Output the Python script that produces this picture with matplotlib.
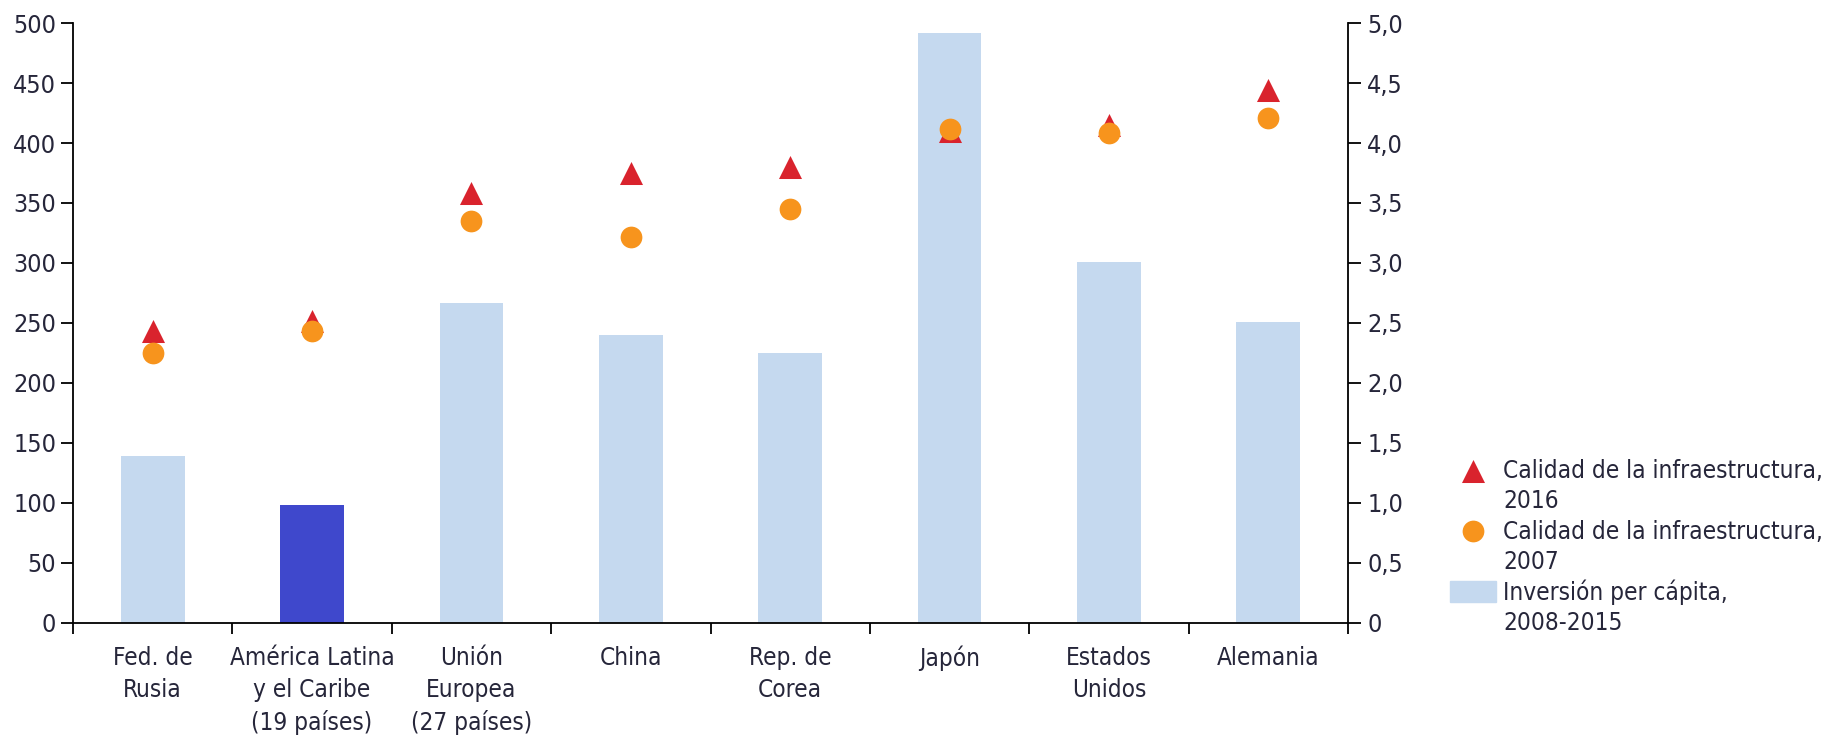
import numpy as np
import matplotlib.pyplot as plt
from matplotlib.patches import Patch

plt.rcParams['font.family'] = ['DejaVu Sans']
plt.rcParams['font.stretch'] = 'condensed'

paises = ['Fed. de\nRusia', 'América Latina\ny el Caribe\n(19 países)', 'Unión\nEuropea\n(27 países)',
          'China', 'Rep. de\nCorea', 'Japón', 'Estados\nUnidos', 'Alemania']
inversion = [139, 98, 267, 240, 225, 492, 301, 251]
calidad_2016 = [2.43, 2.52, 3.58, 3.75, 3.80, 4.10, 4.15, 4.44]
calidad_2007 = [2.25, 2.43, 3.35, 3.22, 3.45, 4.12, 4.08, 4.21]
right_ticks = [0, 0.5, 1.0, 1.5, 2.0, 2.5, 3.0, 3.5, 4.0, 4.5, 5.0]
right_labels = ['0', '0,5', '1,0', '1,5', '2,0', '2,5', '3,0', '3,5', '4,0', '4,5', '5,0']

txt = '#26263a'
x = np.arange(len(paises))
colores = ['#c5d9ef'] * len(paises)
colores[1] = '#3f48cc'

fig = plt.figure(figsize=(18.35, 7.35), dpi=100)
ax = fig.add_axes([0.0398, 0.1524, 0.6948, 0.8163])
ax.bar(x, inversion, width=0.4, color=colores, zorder=1)
ax.set_xlim(-0.5, 7.5)
ax.set_ylim(0, 500)
ax.set_yticks(range(0, 501, 50))
ax.set_xticks(x)
ax.set_xticklabels(paises, fontsize=17.5, color=txt, linespacing=1.4)
ax.set_xticks(np.arange(-0.5, 7.6, 1), minor=True)
ax.tick_params(axis='x', which='major', length=0, pad=16.5)
ax.tick_params(axis='x', which='minor', length=8, width=1.3)
ax.tick_params(axis='y', length=9, width=1.3, labelsize=18, labelcolor=txt, pad=3)
ax.spines['top'].set_visible(False)
ax.spines['right'].set_visible(False)
for s in ['left', 'bottom']:
    ax.spines[s].set_linewidth(1.3)

ax2 = ax.twinx()
ax2.set_ylim(0, 5)
ax2.set_yticks(right_ticks)
ax2.set_yticklabels(right_labels)
ax2.tick_params(axis='y', length=9, width=1.3, labelsize=18, labelcolor=txt, pad=5)
ax2.spines['top'].set_visible(False)
ax2.spines['left'].set_visible(False)
ax2.spines['bottom'].set_visible(False)
ax2.spines['right'].set_linewidth(1.3)

t16 = ax2.scatter(x, calidad_2016, marker='^', s=275, color='#d9232d', linewidths=0, zorder=3)
c07 = ax2.scatter(x, calidad_2007, marker='o', s=245, color='#f7941d', linewidths=0, zorder=4)

# second line of each legend label gets an empty handle
barra = Patch(color='#c5d9ef')
vacio = Patch(color='none')
fig.legend([t16, vacio, c07, vacio, barra, vacio],
           ['Calidad de la infraestructura,', '2016', 'Calidad de la infraestructura,', '2007',
            'Inversión per cápita,', '2008-2015'],
           loc='upper left', bbox_to_anchor=(0.790, 0.375), frameon=False, fontsize=17.5,
           labelcolor=txt, handlelength=1.9, handleheight=0.95, handletextpad=0.3,
           labelspacing=0.25, markerscale=1.0, borderaxespad=0, borderpad=0)

fig.savefig('out.png', dpi=100)
